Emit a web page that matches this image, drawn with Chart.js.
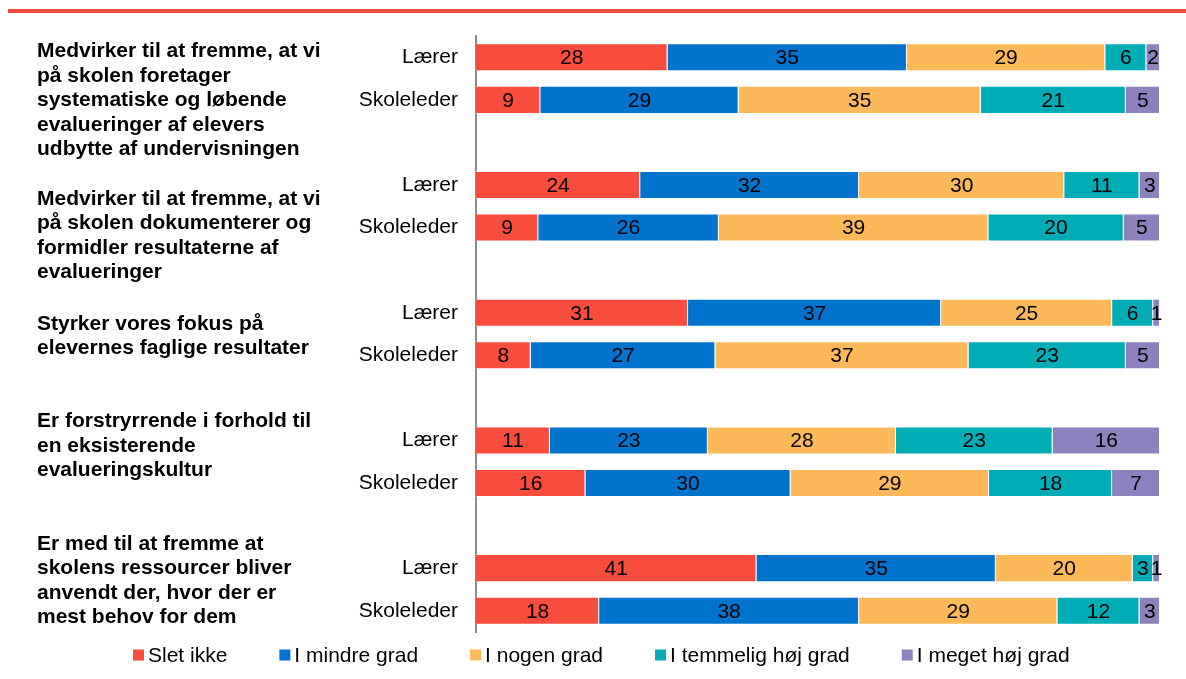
<!DOCTYPE html>
<html lang="da">
<head>
<meta charset="utf-8">
<title>Evaluering - Lærer og Skoleleder</title>
<script src="https://cdn.jsdelivr.net/npm/chart.js@4"></script>
<style>
    html, body { margin: 0; padding: 0; background: #fff; }
    #wrap { position: relative; width: 1186px; height: 679px; }
</style>
</head>
<body>
<div id="wrap"><canvas id="chart"></canvas></div>
<script>
// Spørgsmål (vist med samme linjeskift som originalen)
const groupLabels = [
    ['Medvirker til at fremme, at vi', 'på skolen foretager', 'systematiske og løbende', 'evalueringer af elevers', 'udbytte af undervisningen'],
    ['Medvirker til at fremme, at vi', 'på skolen dokumenterer og', 'formidler resultaterne af', 'evalueringer'],
    ['Styrker vores fokus på', 'elevernes faglige resultater'],
    ['Er forstryrrende i forhold til', 'en eksisterende', 'evalueringskultur'],
    ['Er med til at fremme at', 'skolens ressourcer bliver', 'anvendt der, hvor der er', 'mest behov for dem']
];
const respondents = ['Lærer', 'Skoleleder'];
const seriesNames = ['Slet ikke', 'I mindre grad', 'I nogen grad', 'I temmelig høj grad', 'I meget høj grad'];

// Procenter pr. bjælke: Lærer/Skoleleder for hvert spørgsmål
const sletIkke       = [28, 9.4, 24, 9.1, 31, 8, 10.8, 16, 41, 18];
const iMindreGrad    = [35, 29, 32, 26.4, 37, 27, 23.1, 30, 35, 38];
const iNogenGrad     = [29, 35.4, 30, 39.4, 25, 37, 27.5, 29, 20, 29];
const iTemmeligHoj   = [6, 21.2, 11, 19.8, 6, 23, 22.9, 18, 3, 12];
const iMegetHoj      = [2, 5, 3, 5.3, 1, 5, 15.7, 7, 1, 3];

const seriesValues = [sletIkke, iMindreGrad, iNogenGrad, iTemmeligHoj, iMegetHoj];
const seriesColors = ['#F84C3C', '#0074CD', '#FDB85A', '#00ADB7', '#8B83BE'];

// lodret placering af spørgsmålsteksten i forhold til "Lærer"-bjælken (px)
const groupLabelOffsets = [-6, 14, 11, -19, -24];

const FONT = "'Liberation Sans', Arial, sans-serif";

// rækker med tom plads mellem spørgsmålene
const rowLabels = [];
const rowIndex = [];   // bjælke-indeks for hver række, null = mellemrum
groupLabels.forEach((g, gi) => {
    respondents.forEach((r, ri) => {
        rowLabels.push(r);
        rowIndex.push(gi * respondents.length + ri);
    });
    if (gi < groupLabels.length - 1) {
        rowLabels.push('');
        rowIndex.push(null);
    }
});

const datasets = seriesNames.map((name, si) => ({
    label: name,
    data: rowIndex.map(i => i === null ? null : seriesValues[si][i]),
    backgroundColor: seriesColors[si],
    borderColor: 'rgba(255,255,255,0.45)',
    borderWidth: 1,
    categoryPercentage: 1,
    barPercentage: 0.66
}));

const extrasPlugin = {
    id: 'extras',
    afterDatasetsDraw(chart) {
        const ctx = chart.ctx;
        ctx.save();
        ctx.font = '21px ' + FONT;
        ctx.fillStyle = '#000';
        ctx.textAlign = 'center';
        ctx.textBaseline = 'middle';
        chart.data.datasets.forEach((ds, di) => {
            const meta = chart.getDatasetMeta(di);
            meta.data.forEach((bar, i) => {
                const v = ds.data[i];
                if (v === null || v === undefined) return;
                const c = bar.getCenterPoint();
                ctx.fillText(String(Math.round(v)), c.x, c.y + 1);
            });
        });
        ctx.restore();
    },
    afterDraw(chart) {
        const ctx = chart.ctx;
        const yScale = chart.scales.y;
        ctx.save();

        // rød streg øverst
        ctx.fillStyle = '#F44A3A';
        ctx.fillRect(8, 9, chart.width - 8, 4);

        // spørgsmålstekster
        ctx.font = 'bold 21px ' + FONT;
        ctx.fillStyle = '#000';
        ctx.textAlign = 'left';
        ctx.textBaseline = 'middle';
        groupLabels.forEach((lines, gi) => {
            const row = rowIndex.indexOf(gi * respondents.length);
            const y0 = yScale.getPixelForValue(row) + groupLabelOffsets[gi];
            lines.forEach((line, li) => {
                ctx.fillText(line, 37, y0 + li * 24.5);
            });
        });

        // forklaring
        ctx.font = '21px ' + FONT;
        const box = 11, textGap = 4, itemGap = 52;
        let x = 133;
        const ly = 655;
        seriesNames.forEach((name, si) => {
            ctx.fillStyle = seriesColors[si];
            ctx.fillRect(x, ly - box / 2, box, box);
            ctx.fillStyle = '#000';
            ctx.fillText(name, x + box + textGap, ly + 1);
            x += box + textGap + ctx.measureText(name).width + itemGap;
        });
        ctx.restore();
    }
};

new Chart(document.getElementById('chart'), {
    type: 'bar',
    data: { labels: rowLabels, datasets: datasets },
    options: {
        indexAxis: 'y',
        responsive: true,
        maintainAspectRatio: false,
        animation: false,
        devicePixelRatio: 1,
        layout: { padding: { top: 36, right: 26, bottom: 47, left: 0 } },
        plugins: {
            legend: { display: false },
            tooltip: { enabled: false }
        },
        scales: {
            x: {
                stacked: true,
                min: 0,
                max: 100,
                display: false
            },
            y: {
                stacked: true,
                grid: { display: false, drawTicks: false },
                border: { display: true, color: '#8C8C8C', width: 2 },
                ticks: {
                    autoSkip: false,
                    padding: 18,
                    color: '#000',
                    font: { family: FONT, size: 21 }
                },
                afterFit(scale) { scale.width = 476; }
            }
        }
    },
    plugins: [extrasPlugin]
});
</script>
</body>
</html>
